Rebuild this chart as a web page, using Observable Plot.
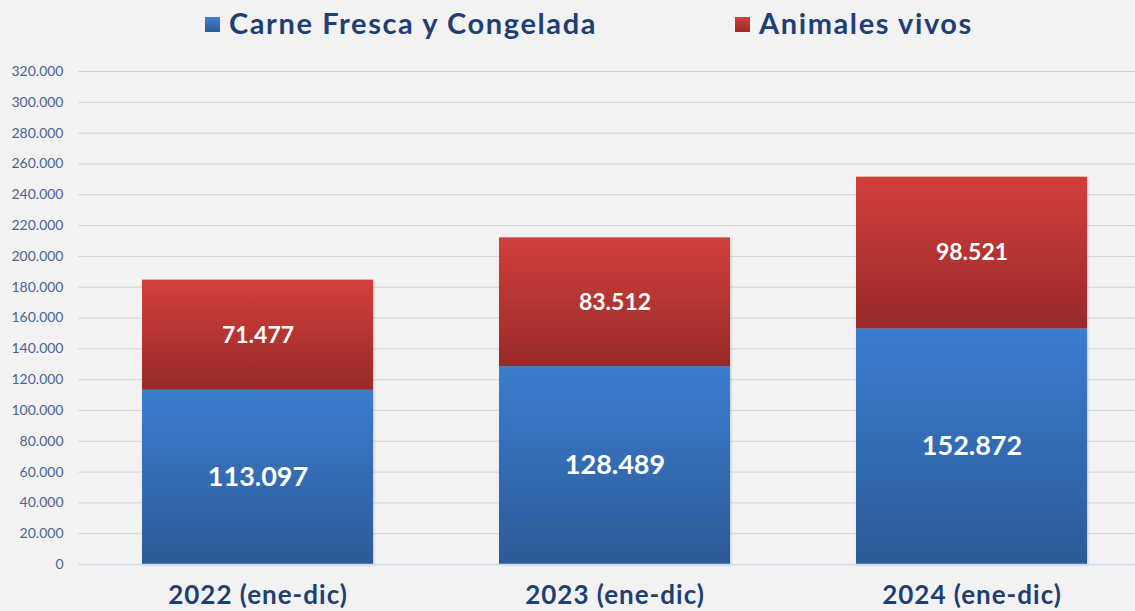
<!DOCTYPE html>
<html><head><meta charset="utf-8">
<script src="https://cdn.jsdelivr.net/npm/d3@7"></script>
<script src="https://cdn.jsdelivr.net/npm/@observablehq/plot@0.6"></script>
<style>
html,body{margin:0;padding:0;background:#f2f2f2;}
body{width:1135px;height:611px;overflow:hidden;font-family:Lato,"Noto Sans",sans-serif;}
#legend{position:relative;height:50px;}
.item{position:absolute;top:5px;font-weight:bold;font-size:29px;letter-spacing:1.6px;color:#1f3f74;display:flex;align-items:center;white-space:nowrap;}
.sw{width:15px;height:15px;margin-right:9px;margin-top:3px;}
#chart svg{display:block;overflow:visible;}
</style></head><body>
<div id="legend"></div>
<div id="chart"></div>
<script>
const years = ["2022 (ene-dic)", "2023 (ene-dic)", "2024 (ene-dic)"];
const series = ["Carne Fresca y Congelada", "Animales vivos"];
const carne = [113097, 128489, 152872];
const animales = [71477, 83512, 98521];
const yTicks = [0,20000,40000,60000,80000,100000,120000,140000,160000,180000,200000,220000,240000,260000,280000,300000,320000];

const fmt = v => v.toLocaleString("de-DE");
const data = [];
years.forEach((y, i) => {
  data.push({year: y, serie: series[0], value: carne[i]});
  data.push({year: y, serie: series[1], value: animales[i]});
});

// legend
const legend = document.getElementById("legend");
const legendItems = [
  {label: series[0], left: 205, grad: "linear-gradient(#3d7fd1,#2c5a98)"},
  {label: series[1], left: 735, grad: "linear-gradient(#d3403c,#992a29)"}
];
legendItems.forEach(it => {
  const d = document.createElement("div");
  d.className = "item";
  d.style.left = it.left + "px";
  d.innerHTML = `<span class="sw" style="background:${it.grad}"></span><span>${it.label}</span>`;
  legend.appendChild(d);
});

const chart = Plot.plot({
  width: 1135,
  height: 561,
  marginTop: 21,
  marginBottom: 47,
  marginLeft: 78,
  marginRight: 0,
  style: {background: "transparent", fontFamily: "Lato, sans-serif"},
  x: {domain: years, range: [78, 1150], paddingInner: 0.354, paddingOuter: 0.177, label: null},
  y: {domain: [0, 320000], label: null},
  color: {domain: series, range: ["url(#gBlue)", "url(#gRed)"]},
  marks: [
    Plot.ruleY(yTicks.filter(d => d > 0), {stroke: "#d3d3d3", strokeWidth: 1}),
    Plot.axisY({ticks: yTicks, tickFormat: fmt, tickSize: 0, tickPadding: 15, fontSize: 14, fill: "#4a6591", label: null}),
    Plot.axisX({tickSize: 0, tickPadding: 21, fontSize: 26, fontWeight: "bold", fill: "#1f3f74", label: null}),
    Plot.barY(data, Plot.stackY({x: "year", y: "value", z: "serie", fill: "serie"})),
    Plot.ruleY([0], {stroke: "#c9dcf2", strokeWidth: 1.5}),
    Plot.text(data, Plot.stackY({
      x: "year", y: "value", z: "serie",
      text: d => fmt(d.value),
      fontSize: d => d.serie === series[0] ? 27 : 23,
      fontWeight: "bold", fill: "white"
    }))
  ]
});

const svg = d3.select(chart);
const defs = svg.insert("defs", ":first-child");
const g1 = defs.append("linearGradient").attr("id", "gBlue").attr("x1", 0).attr("y1", 0).attr("x2", 0).attr("y2", 1);
g1.append("stop").attr("offset", "0%").attr("stop-color", "#3b7dcf");
g1.append("stop").attr("offset", "100%").attr("stop-color", "#2c5a97");
const g2 = defs.append("linearGradient").attr("id", "gRed").attr("x1", 0).attr("y1", 0).attr("x2", 0).attr("y2", 1);
g2.append("stop").attr("offset", "0%").attr("stop-color", "#d23f3b");
g2.append("stop").attr("offset", "100%").attr("stop-color", "#982a29");
svg.selectAll("g[aria-label='bar']").style("filter", "drop-shadow(1.5px 1px 1px rgba(0,0,0,0.18))");
svg.selectAll("g[aria-label='x-axis tick label'] text").style("letter-spacing", "1px");

document.getElementById("chart").appendChild(chart);
</script>
</body></html>
